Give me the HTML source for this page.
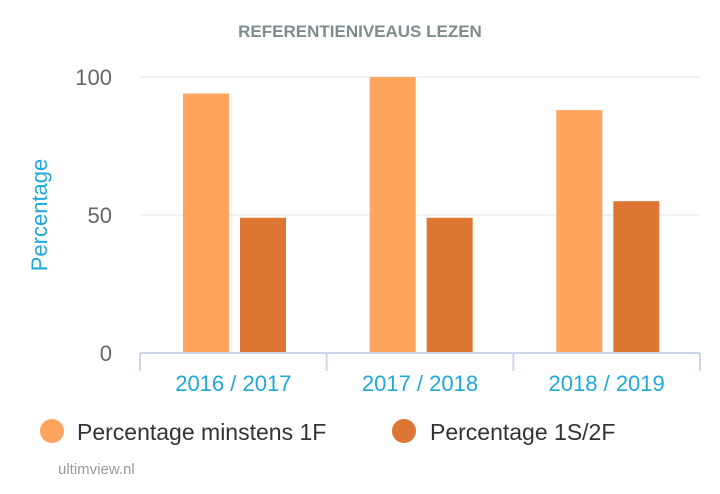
<!DOCTYPE html>
<html><head><meta charset="utf-8"><style>
body{margin:0;background:#fff;width:720px;height:489px;overflow:hidden;font-family:"Liberation Sans",sans-serif}
</style></head><body>
<svg id="c" width="720" height="489" xmlns="http://www.w3.org/2000/svg">
<text x="360" y="37" text-anchor="middle" font-size="17" font-weight="bold" fill="#7f8c8d">REFERENTIENIVEAUS LEZEN</text>
<text transform="translate(47,215) rotate(-90)" text-anchor="middle" font-size="22" fill="#1ea8dc">Percentage</text>
<g id="grid"></g><g id="bars"></g><g id="axis"></g>
<g>
<g><circle cx="52" cy="431" r="12" fill="#ffa45c"/><text x="77" y="440" font-size="23" fill="#333">Percentage minstens 1F</text></g>
<g><circle cx="404" cy="431" r="12" fill="#dc7632"/><text x="430" y="440" font-size="23" fill="#333">Percentage 1S/2F</text></g>
</g>
<text x="58" y="474" font-size="15" fill="#999">ultimview.nl</text>
</svg>
<script>
const categories=["2016 / 2017","2017 / 2018","2018 / 2019"];
const series1=[94,100,88];
const series2=[49,49,55];
const yTicks=[0,50,100];
const NS="http://www.w3.org/2000/svg";
const L=140,R=700,T=77,B=353;
const y=v=>B-(B-T)*v/100;
const gw=(R-L)/categories.length;
function mk(tag,attrs,parent,txt){const e=document.createElementNS(NS,tag);for(const k in attrs)e.setAttribute(k,attrs[k]);if(txt!=null)e.textContent=txt;document.getElementById(parent).appendChild(e);return e;}
yTicks.forEach(t=>{
 if(t>0){const g=mk('line',{x1:L,x2:R,y1:y(t),y2:y(t),stroke:'#e6e6e6'},'grid');
 
 }
 const lb=mk('text',{x:112,y:y(t)+8,'text-anchor':'end','font-size':22,fill:'#666'},'grid',t);
 
 
});
categories.forEach((c,i)=>{
 const x0=L+gw*i;
 const b1=mk('rect',{x:x0+43,y:y(series1[i]),width:46,height:B-y(series1[i]),fill:'#ffa45c'},'bars');
 
 
 const b2=mk('rect',{x:x0+100,y:y(series2[i]),width:46,height:B-y(series2[i]),fill:'#dc7632'},'bars');
 
 
 const lb=mk('text',{x:x0+gw/2,y:391,'text-anchor':'middle','font-size':22,fill:'#1ea8dc'},'axis',c);
 
 
});
const ax=mk('line',{x1:L,x2:R,y1:B,y2:B,stroke:'#ccd6eb','stroke-width':2},'axis');


for(let i=0;i<=categories.length;i++){const tk=mk('line',{x1:L+gw*i,x2:L+gw*i,y1:B,y2:B+18,stroke:'#ccd6eb','stroke-width':2},'axis');
 
 }
</script>
</body></html>
